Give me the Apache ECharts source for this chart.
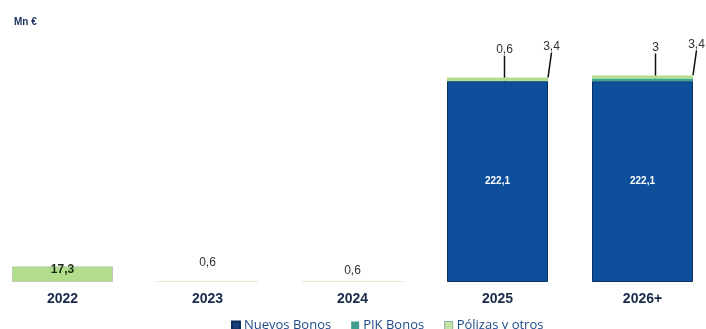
<!DOCTYPE html>
<html><head><meta charset="utf-8">
<script src="https://cdn.jsdelivr.net/npm/echarts@6/dist/echarts.min.js"></script>
<style>html,body{margin:0;padding:0;background:#fff;overflow:hidden;width:706px;height:329px;position:relative}#c{position:absolute;left:-10px;top:0;width:725px;height:329px}</style>
</head><body><div id="c"></div>
<script>
const categories = ['2022', '2023', '2024', '2025', '2026+'];
const nuevosBonos = [0, 0, 0, 222.1, 222.1];
const pikBonos = [0, 0, 0, 0.6, 3];
const polizas = [17.3, 0.6, 0.6, 3.4, 3.4];
const seriesNames = ['Nuevos Bonos', 'PIK Bonos', 'Pólizas y otros'];

const fmt = v => String(v).replace('.', ',');
const nz = arr => arr.map(v => v === 0 ? '-' : v);
const FONT = 'Arial, Liberation Sans';

const polizasData = polizas.map((v, i) => {
  const item = {value: v};
  if (i === 0) {
    item.label = {position: 'inside', fontWeight: 'bold', fontSize: 12, color: '#1c2a10'};
    item.labelLine = {show: false};
    item.itemStyle = {borderColor: '#aaaaaa', borderWidth: 1, borderType: 'dotted'};
  } else if (i < 3) {
    item.labelLine = {show: false};
  }
  return item;
});

const chart = echarts.init(document.getElementById('c'));
chart.setOption({
  animation: false,
  title: {text: 'Mn €', left: 19, top: 12, textStyle: {fontSize: 10, fontWeight: 'bold', color: '#1a2f5a', fontFamily: FONT}},
  legend: {
    data: [
      {name: seriesNames[0], itemStyle: {color: '#1c3f7a'}},
      {name: seriesNames[1], itemStyle: {color: '#3d9e8f'}},
      {name: seriesNames[2], itemStyle: {color: '#c4e4a8', borderColor: '#8fb39a', borderWidth: 1}}
    ],
    icon: 'rect', top: 314, left: 236, itemWidth: 8, itemHeight: 8, itemGap: 20,
    textStyle: {fontSize: 13, color: '#1d4a86', fontFamily: 'Open Sans, Arial', padding: [0, 0, 0, -1]}
  },
  grid: {left: 0, right: 0, top: 56, bottom: 47},
  xAxis: {
    type: 'category', data: categories,
    axisLine: {show: false}, axisTick: {show: false},
    axisLabel: {fontSize: 14, fontWeight: 'bold', color: '#1a2a4a', margin: 10, fontFamily: FONT}
  },
  yAxis: {type: 'value', min: 0, max: 250, show: false, splitLine: {show: false}},
  series: [
    {
      name: seriesNames[0], type: 'bar', stack: 's', barWidth: 101, data: nz(nuevosBonos),
      itemStyle: {color: '#0e4f9b', borderColor: '#0a3060', borderWidth: 1},
      label: {show: true, position: 'inside', color: '#fff', fontSize: 10, fontWeight: 'bold', fontFamily: FONT, formatter: p => fmt(p.value)}
    },
    {
      name: seriesNames[1], type: 'bar', stack: 's', barWidth: 101, data: nz(pikBonos),
      itemStyle: {color: '#3aa595'},
      label: {show: true, position: 'top', color: '#333', fontSize: 12, fontFamily: FONT, formatter: p => fmt(p.value)},
      labelLine: {show: true, lineStyle: {color: '#111', width: 1.5}},
      labelLayout: p => p.dataIndex === 3 ? {dx: 7, dy: -20} : {dx: 13, dy: -20}
    },
    {
      name: seriesNames[2], type: 'bar', stack: 's', barWidth: 101, data: polizasData,
      itemStyle: {color: '#b2dd8c'},
      label: {show: true, position: 'top', color: '#333', fontSize: 12, fontFamily: FONT, formatter: p => fmt(p.value)},
      labelLine: {show: true, lineStyle: {color: '#111', width: 1.5}},
      labelLayout: p => {
        if (p.dataIndex === 0) return {dy: -4};
        if (p.dataIndex === 1) return {dy: -8};
        if (p.dataIndex === 2) return {dy: 0};
        return {dx: 54, dy: -20};
      }
    }
  ]
});
</script></body></html>
